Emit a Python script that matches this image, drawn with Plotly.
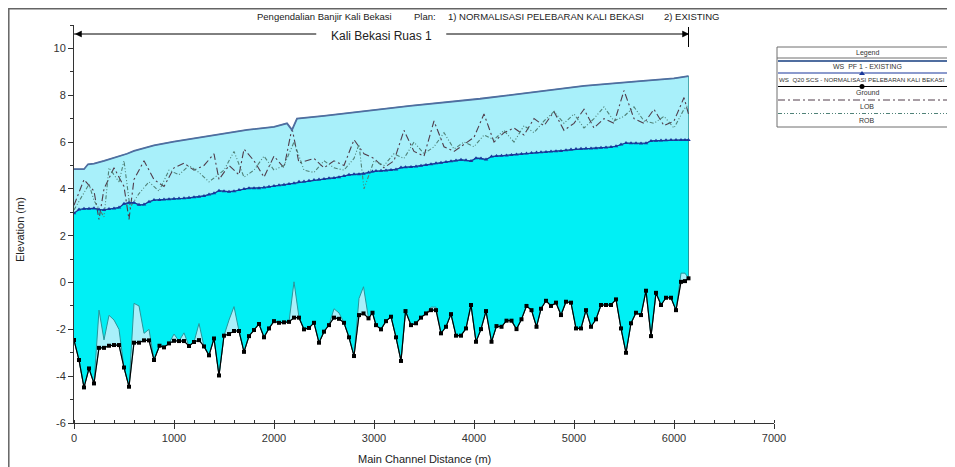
import plotly.graph_objects as go

# ---------------- data ----------------
station = [0, 50, 100, 150, 200, 250, 300, 350, 400, 450, 500, 550, 600, 650, 700, 750, 800, 855,
           900, 950, 1000, 1050, 1100, 1150, 1200, 1250, 1300, 1350, 1400, 1450, 1500, 1550, 1600,
           1650, 1700, 1750, 1800, 1850, 1900, 1950, 2000, 2050, 2100, 2150, 2200, 2250, 2300, 2350,
           2400, 2450, 2500, 2550, 2600, 2650, 2700, 2750, 2800, 2850,
           2895, 2945, 2985, 3020, 3070, 3120, 3170, 3220, 3270, 3315, 3370, 3420, 3470, 3520, 3570,
           3620, 3670, 3720, 3770, 3820, 3870, 3920, 3970, 4020, 4070, 4120, 4175, 4225, 4275, 4325,
           4375, 4425, 4475, 4525, 4575, 4625, 4670, 4720, 4770, 4820, 4870, 4920, 4970, 5020, 5070,
           5120, 5170, 5220, 5270, 5320, 5370, 5420, 5470, 5520, 5570, 5620, 5670, 5720, 5770, 5820,
           5870, 5920, 5970, 6020, 6070, 6110, 6145]

ground = [-2.46, -3.31, -4.48, -3.67, -4.31, -2.79, -2.79, -2.70, -2.67, -2.67, -3.63, -4.45, -2.57,
          -2.57, -2.47, -2.47, -3.31, -2.70, -2.77, -2.60, -2.49, -2.50, -2.50, -2.71, -2.54, -2.46,
          -2.73, -3.11, -2.39, -3.97, -2.27, -2.20, -2.07, -2.07, -2.96, -2.29, -2.03, -1.77, -2.34,
          -1.96, -1.65, -1.72, -1.70, -1.68, -1.50, -1.50, -2.00, -1.94, -1.72, -2.57, -2.10, -1.82,
          -1.50, -1.55, -1.72, -2.34, -3.14, -1.39,
          -1.32, -1.53, -1.29, -1.82, -2.00, -1.65, -1.46, -2.34, -3.35, -1.22, -1.82, -1.74, -1.50,
          -1.32, -1.18, -1.18, -2.17, -1.89, -1.35, -2.27, -2.27, -1.96, -0.96, -2.53, -1.99, -1.22,
          -2.53, -1.86, -1.89, -1.63, -1.63, -1.99, -1.57, -1.00, -1.18, -1.89, -1.12, -0.78, -1.00,
          -0.86, -1.39, -0.82, -0.86, -1.96, -1.96, -1.18, -1.89, -1.57, -0.96, -0.96, -0.96, -0.72,
          -1.96, -3.00, -1.74, -1.29, -1.39, -0.35, -2.29, -0.44, -0.96, -0.65, -0.65, -1.18, 0.03,
          0.06, 0.18]

ground_existing = [-2.46, -3.31, -4.48, -3.67, -4.31, -1.18, -2.45, -1.40, -1.60, -2.00, -3.63, -4.45,
                   -0.89, -1.00, -2.17, -2.00, -3.31, -2.70, -2.77, -2.60, -2.20, -2.50, -2.15, -2.71,
                   -2.54, -1.75, -2.73, -3.11, -2.39, -3.97, -2.27, -1.60, -1.03, -2.07, -2.96, -2.29,
                   -2.03, -1.77, -2.34, -1.96, -1.65, -1.72, -1.70, -1.68, 0.03, -1.50, -2.00, -1.94,
                   -1.72, -2.57, -2.10, -1.82, -1.12, -1.30, -1.72, -2.34, -3.14, -0.68,
                   -0.18, -1.53, -1.29, -1.82, -2.00, -1.65, -1.46, -2.34, -3.35, -1.22, -1.82, -1.74,
                   -1.50, -1.32, -1.05, -1.05, -2.17, -1.89, -1.35, -2.27, -2.27, -1.96, -0.96, -2.53,
                   -1.99, -1.22, -2.53, -1.86, -1.89, -1.63, -1.63, -1.99, -1.57, -1.00, -1.18, -1.89,
                   -1.12, -0.78, -1.00, -0.86, -1.39, -0.82, -0.86, -1.96, -1.96, -1.18, -1.89, -1.57,
                   -0.96, -0.96, -0.96, -0.72, -1.96, -3.00, -1.74, -1.29, -1.39, -0.35, -2.29, -0.44,
                   -0.96, -0.65, -0.65, -1.18, 0.40, 0.40, 0.18]

ws_q20 = [2.96, 3.12, 3.15, 3.15, 3.17, 3.12, 3.10, 3.14, 3.16, 3.20, 3.36, 3.41, 3.41, 3.32, 3.33,
          3.45, 3.52, 3.53, 3.55, 3.56, 3.58, 3.59, 3.60, 3.62, 3.64, 3.66, 3.70, 3.76, 3.81, 3.92,
          3.90, 3.88, 3.90, 3.95, 3.99, 4.03, 4.03, 4.03, 4.06, 4.09, 4.12, 4.15, 4.18, 4.21, 4.24,
          4.30, 4.32, 4.35, 4.38, 4.40, 4.42, 4.45, 4.47, 4.50, 4.55, 4.60, 4.62, 4.62,
          4.65, 4.70, 4.74, 4.76, 4.77, 4.79, 4.81, 4.83, 4.91, 4.92, 4.94, 4.96, 4.99, 5.02, 5.05,
          5.09, 5.12, 5.15, 5.18, 5.21, 5.24, 5.22, 5.19, 5.31, 5.30, 5.25, 5.38, 5.40, 5.41, 5.43,
          5.45, 5.47, 5.49, 5.51, 5.53, 5.55, 5.56, 5.58, 5.60, 5.61, 5.62, 5.65, 5.68, 5.70, 5.71,
          5.72, 5.73, 5.74, 5.76, 5.77, 5.79, 5.82, 5.90, 5.96, 5.95, 5.95, 5.94, 5.95, 6.05, 6.06,
          6.07, 6.08, 6.09, 6.09, 6.09, 6.09, 6.09]

ws_existing_station = [0, 100, 140, 200, 300, 400, 530, 600, 800, 1000, 1200, 1460, 1730, 2000, 2130,
                       2180, 2230, 2500, 2860, 3360, 4060, 4600, 5100, 5660, 6000, 6145]
ws_existing = [4.84, 4.84, 5.05, 5.08, 5.20, 5.32, 5.50, 5.62, 5.86, 6.02, 6.16, 6.36, 6.52, 6.65, 6.80,
               6.52, 7.00, 7.12, 7.30, 7.55, 7.85, 8.15, 8.40, 8.60, 8.72, 8.82]

lob_station = [0, 100, 200, 250, 300, 400, 500, 550, 600, 700, 800, 900, 1000, 1100, 1200, 1300, 1400,
               1450, 1550, 1650, 1700, 1800, 1900, 2000, 2100, 2180, 2250, 2400, 2500, 2600, 2700, 2800,
               2900, 3000, 3100, 3200, 3300, 3400, 3500, 3600, 3700, 3800, 3900, 4000, 4100, 4200, 4300,
               4400, 4500, 4600, 4700, 4800, 4900, 5000, 5100, 5200, 5300, 5400, 5500, 5600, 5700, 5800,
               5900, 6000, 6100, 6145]
lob = [3.3, 4.4, 3.9, 2.7, 4.0, 4.9, 4.1, 2.7, 4.4, 5.2, 4.4, 4.1, 4.9, 5.1, 4.8, 5.0, 5.5, 4.4, 5.0,
       4.6, 5.7, 5.2, 4.5, 5.4, 4.9, 6.6, 5.1, 5.3, 4.9, 5.2, 5.0, 6.1, 5.5, 5.3, 4.9, 5.2, 6.5, 5.6,
       5.4, 6.9, 5.8, 5.6, 5.9, 6.2, 7.2, 6.0, 6.4, 6.6, 6.3, 7.0, 6.7, 7.3, 6.5, 6.8, 7.4, 6.6, 7.0,
       6.8, 8.2, 7.0, 6.8, 7.4, 6.7, 6.9, 7.9, 7.2]

rob_station = [0, 80, 150, 200, 300, 350, 450, 500, 560, 650, 750, 850, 950, 1050, 1150, 1250, 1350,
               1500, 1600, 1700, 1800, 1900, 2000, 2100, 2200, 2300, 2400, 2500, 2600, 2700, 2800, 2850,
               2900, 3000, 3100, 3200, 3300, 3400, 3500, 3600, 3700, 3800, 3900, 4000, 4100, 4200, 4300,
               4400, 4500, 4600, 4700, 4800, 4900, 5000, 5100, 5200, 5300, 5400, 5500, 5600, 5700, 5800,
               5900, 6000, 6100, 6145]
rob = [3.1, 3.7, 4.2, 3.5, 2.8, 4.9, 4.3, 5.2, 3.2, 3.8, 4.3, 3.9, 4.8, 4.6, 5.0, 4.7, 4.3, 4.8, 5.6,
       4.5, 4.8, 5.4, 4.8, 5.0, 6.0, 4.8, 4.7, 5.2, 4.9, 4.8, 5.3, 5.9, 4.0, 5.2, 5.0, 5.5, 5.3, 6.0,
       5.5, 5.8, 6.4, 5.7, 6.0, 5.8, 6.3, 6.1, 6.5, 6.0, 6.7, 6.4, 6.9, 7.3, 6.8, 7.2, 6.6, 7.0, 7.5,
       6.9, 7.1, 7.5, 6.9, 6.8, 7.1, 6.6, 7.4, 7.6]

x_ticks = [0, 1000, 2000, 3000, 4000, 5000, 6000, 7000]
y_ticks = [-6, -4, -2, 0, 2, 4, 6, 8, 10]

title_parts = ["Pengendalian Banjir Kali Bekasi", "Plan:",
               "1) NORMALISASI PELEBARAN KALI BEKASI", "2) EXISTING"]
reach_name = "Kali Bekasi Ruas 1"
legend_rows = ["WS  PF 1 - EXISTING", "WS  Q20 SCS - NORMALISASI PELEBARAN KALI BEKASI",
               "Ground", "LOB", "ROB"]

assert len(station) == len(ground) == len(ground_existing) == len(ws_q20)
assert len(ws_existing_station) == len(ws_existing)
assert len(lob_station) == len(lob) and len(rob_station) == len(rob)

# ---------------- layout geometry ----------------
# the page body has an 8px default margin; positions below are page pixels
OFF = 8
W, H = 955 - OFF, 467 - OFF
L, R, T, B = 74 - OFF, 774 - OFF, 25 - OFF, 423 - OFF
PW, PH = R - L, B - T


def px(x):
    return (x - OFF - L) / PW


def py(y):
    return (B - (y - OFF)) / PH


FONT = "Liberation Sans, Arial, sans-serif"
C_LIGHT = "rgb(168,240,250)"
C_BRIGHT = "rgb(0,240,245)"
C_EDGE = "rgb(40,150,155)"
C_WSEX = "rgb(80,110,160)"
C_Q20 = "rgb(25,55,155)"
C_LOB = "rgb(80,60,75)"
C_ROB = "rgb(80,130,120)"

fig = go.Figure()

# light fill: existing WS down to ground
fig.add_trace(go.Scatter(
    x=ws_existing_station + station[::-1], y=ws_existing + ground[::-1],
    fill="toself", fillcolor=C_LIGHT, mode="lines",
    line=dict(color=C_EDGE, width=0.8), hoverinfo="skip", showlegend=False))

# bright fill: Q20 WS down to existing ground
fig.add_trace(go.Scatter(
    x=station + station[::-1], y=ws_q20 + ground_existing[::-1],
    fill="toself", fillcolor=C_BRIGHT, mode="lines",
    line=dict(color=C_EDGE, width=1), hoverinfo="skip", showlegend=False))

# bank lines
fig.add_trace(go.Scatter(x=lob_station, y=lob, mode="lines",
                         line=dict(color=C_LOB, width=1.1, dash="7px,3px,2px,3px"),
                         showlegend=False))
fig.add_trace(go.Scatter(x=rob_station, y=rob, mode="lines",
                         line=dict(color=C_ROB, width=1.1, dash="4px,2px,1px,2px,1px,2px"),
                         showlegend=False))

# existing WS line
fig.add_trace(go.Scatter(x=ws_existing_station, y=ws_existing, mode="lines",
                         line=dict(color=C_WSEX, width=1.8), showlegend=False))

# Q20 WS with triangles
fig.add_trace(go.Scatter(x=station, y=ws_q20, mode="lines+markers",
                         line=dict(color=C_Q20, width=1.2),
                         marker=dict(symbol="triangle-up", size=4, color=C_Q20),
                         showlegend=False))

# ground
fig.add_trace(go.Scatter(x=station, y=ground, mode="lines+markers",
                         line=dict(color="black", width=1.2),
                         marker=dict(symbol="square", size=4, color="black"),
                         showlegend=False))

shapes = []
annotations = []


def text(xp, yp, s, size, xanchor="center", angle=0, color="#222"):
    annotations.append(dict(x=px(xp), y=py(yp), xref="paper", yref="paper", text=s,
                            showarrow=False, xanchor=xanchor, yanchor="middle",
                            textangle=angle, borderpad=0,
                            font=dict(family=FONT, size=size, color=color)))


# outer frame (image border)
shapes.append(dict(type="rect", xref="paper", yref="paper",
                   x0=px(8.8), x1=px(975), y0=py(480), y1=py(8.8),
                   line=dict(color="rgb(100,100,100)", width=1.5), layer="below"))

# reach arrow
reach_start, reach_end = station[0], station[-1]
reach_mid = (reach_start + reach_end) / 2
y_arrow = py(34)
gap = 650
shapes.append(dict(type="line", xref="x", yref="paper", x0=reach_start, x1=reach_mid - gap,
                   y0=y_arrow, y1=y_arrow, line=dict(color="black", width=1)))
shapes.append(dict(type="line", xref="x", yref="paper", x0=reach_mid + gap, x1=reach_end,
                   y0=y_arrow, y1=y_arrow, line=dict(color="black", width=1)))
shapes.append(dict(type="line", xref="x", yref="paper", x0=reach_end, x1=reach_end,
                   y0=py(27), y1=py(47), line=dict(color="black", width=1)))
ah_w, ah_h = 60, 3 / PH
shapes.append(dict(type="path", xref="x", yref="paper",
                   path=f"M {reach_start + 15},{y_arrow} L {reach_start + 15 + ah_w},{y_arrow + ah_h} "
                        f"L {reach_start + 15 + ah_w},{y_arrow - ah_h} Z",
                   fillcolor="black", line=dict(color="black", width=0.5)))
shapes.append(dict(type="path", xref="x", yref="paper",
                   path=f"M {reach_end},{y_arrow} L {reach_end - ah_w},{y_arrow + ah_h} "
                        f"L {reach_end - ah_w},{y_arrow - ah_h} Z",
                   fillcolor="black", line=dict(color="black", width=0.5)))
annotations.append(dict(x=reach_mid, y=py(36), xref="x", yref="paper", text=reach_name,
                        showarrow=False, xanchor="center", yanchor="middle",
                        font=dict(family=FONT, size=12, color="#222")))

# title parts
for txt, xpos in zip(title_parts, [256, 413, 447, 663]):
    text(xpos, 17, txt, 9.5, xanchor="left")

# axis titles
text(20, 230, "Elevation (m)", 11, angle=-90)
text(424, 459, "Main Channel Distance (m)", 11)

# custom legend box
LX0, LX1, LXC = 777, 958, 867
shapes.append(dict(type="rect", xref="paper", yref="paper", x0=px(LX0), x1=px(LX1),
                   y0=py(127), y1=py(47), line=dict(color="rgb(110,110,110)", width=1),
                   fillcolor="white"))
shapes.append(dict(type="line", xref="paper", yref="paper", x0=px(LX0), x1=px(LX1),
                   y0=py(58), y1=py(58), line=dict(color="rgb(110,110,110)", width=1)))
text(LXC, 52.5, "Legend", 7, color="#333")


def leg_line(yy, color, width, dash="solid"):
    shapes.append(dict(type="line", xref="paper", yref="paper", x0=px(LX0 + 1), x1=px(LX1 - 1),
                       y0=py(yy), y1=py(yy), line=dict(color=color, width=width, dash=dash)))


leg_line(61, C_WSEX, 2)
text(LXC, 66.5, legend_rows[0], 7, color="#333")
leg_line(73, C_Q20, 1.2)
shapes.append(dict(type="path", xref="paper", yref="paper",
                   path=f"M {px(LXC - 5)},{py(71)} L {px(LXC - 2)},{py(75)} L {px(LXC - 8)},{py(75)} Z",
                   fillcolor=C_Q20, line=dict(width=0)))
text(LX0 + 1, 79.5, legend_rows[1], 6.2, xanchor="left", color="#333")
leg_line(86.5, "black", 1.2)
shapes.append(dict(type="circle", xref="paper", yref="paper",
                   x0=px(LXC - 7.5), x1=px(LXC - 2.5), y0=py(84), y1=py(89),
                   fillcolor="black", line=dict(width=0)))
text(LXC, 93, legend_rows[2], 7, color="#333")
leg_line(100, C_LOB, 1, "7px,3px,2px,3px")
text(LXC, 106.5, legend_rows[3], 7, color="#333")
leg_line(113.5, C_ROB, 1, "4px,2px,1px,2px,1px,2px")
text(LXC, 120.5, legend_rows[4], 7, color="#333")

fig.update_layout(
    width=W, height=H, autosize=False,
    margin=dict(l=L, r=W - R, t=T, b=H - B, pad=0),
    paper_bgcolor="white", plot_bgcolor="white",
    showlegend=False,
    shapes=shapes, annotations=annotations,
    xaxis=dict(range=[0, 7000], tickvals=x_ticks, ticktext=[str(v) for v in x_ticks],
               showgrid=False, zeroline=False, showline=True, linecolor="#333", linewidth=1,
               ticks="outside", ticklen=5, tickcolor="#333",
               minor=dict(dtick=200, ticks="inside", ticklen=3, tickcolor="#333", showgrid=False),
               tickfont=dict(family=FONT, size=11, color="#333")),
    yaxis=dict(range=[-6, 11], tickvals=y_ticks, ticktext=[str(v) for v in y_ticks],
               showgrid=False, zeroline=False, showline=True, linecolor="#333", linewidth=1,
               ticks="outside", ticklen=5, tickcolor="#333",
               minor=dict(dtick=1, ticks="outside", ticklen=3, tickcolor="#333", showgrid=False),
               tickfont=dict(family=FONT, size=11, color="#333")),
)

fig.write_html("out.html")
